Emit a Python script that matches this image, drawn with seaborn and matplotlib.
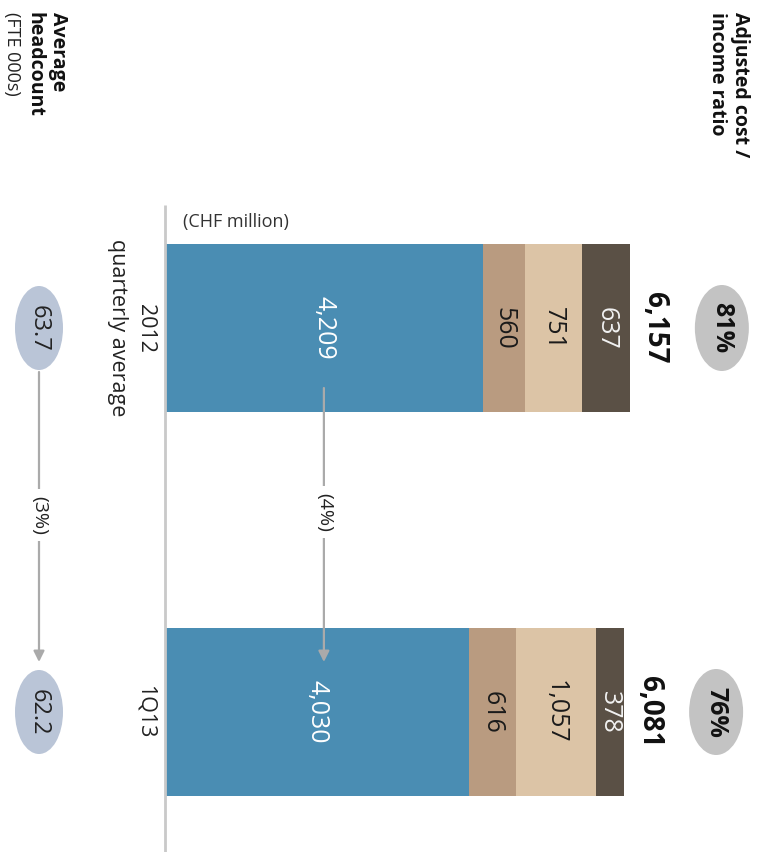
import numpy as np
import pandas as pd
import matplotlib
matplotlib.use("Agg")
import matplotlib.pyplot as plt
import seaborn as sns
from matplotlib.patches import Ellipse

# ---- data ----
categories = ["2012\nquarterly average", "1Q13"]
personnel = [4209, 4030]
general_admin = [560, 616]
services = [751, 1057]
other = [637, 378]
totals = [6157, 6081]
cost_income_ratio = ["81%", "76%"]
headcount = ["63.7", "62.2"]
cost_change = "(4%)"
headcount_change = "(3%)"

seg_values = [personnel, general_admin, services, other]
seg_colors = ["#4a8db3", "#b99b80", "#dcc4a6", "#5a5045"]
seg_text = ["white", "#1a1a1a", "#1a1a1a", "#f2f2f2"]

sns.set_theme(style="white")
plt.rcParams["font.family"] = ["Open Sans", "DejaVu Sans"]

W, H = 760, 852
fig = plt.figure(figsize=(W / 100, H / 100), dpi=100)
ax = fig.add_axes([0, 0, 1, 1])

X0 = 165          # pixel of zero baseline
S = 0.0755        # pixels per CHF million
Y0, DY = 328, 384 # pixel centre of first category, spacing


def xd(px):
    return (px - X0) / S


def yd(py):
    return (py - Y0) / DY


# stacked bars: draw cumulative totals from largest to smallest
cum = np.cumsum(np.array(seg_values), axis=0)
df = pd.DataFrame({"cat": categories})
for k in range(len(seg_values) - 1, -1, -1):
    df["v"] = cum[k]
    sns.barplot(data=df, x="v", y="cat", orient="h", color=seg_colors[k],
                saturation=1, width=0.435, linewidth=0, ax=ax)

ax.set_xlim(xd(0), xd(W))
ax.set_ylim(yd(H), yd(0))
ax.axis("off")

# segment labels
for i in range(len(categories)):
    left = 0
    for k, vals in enumerate(seg_values):
        v = vals[i]
        ax.text(left + v / 2, i, f"{v:,}", rotation=-90, ha="center", va="center",
                fontsize=18, color=seg_text[k])
        left += v
    # totals
    ax.text(totals[i] + 25 / S, i, f"{totals[i]:,}", rotation=-90, ha="center",
            va="center", fontsize=20, fontweight="bold", color="#111111")
    # cost/income ellipse
    cx = totals[i] + 92 / S
    ax.add_patch(Ellipse((cx, i), 54 / S, 86 / DY, color="#c3c3c3", lw=0))
    ax.text(cx, i, cost_income_ratio[i], rotation=-90, ha="center",
            va="center", fontsize=18, fontweight="bold", color="#111111")
    # category labels
    ax.text(xd(156), i, categories[i], rotation=-90, ha="right", va="center",
            multialignment="center", fontsize=15.5, color="#222222",
            linespacing=1.45)
    # headcount ellipse
    ax.add_patch(Ellipse((xd(39), i), 48 / S, 84 / DY, color="#bac5d7", lw=0))
    ax.text(xd(39), i, headcount[i], rotation=-90, ha="center", va="center",
            fontsize=17, color="#222222")

# baseline
ax.plot([0, 0], [yd(205), yd(H)], color="#c9c9c9", lw=2, solid_capstyle="butt")

# change arrows
arrow_kw = dict(arrowstyle="-|>", color="#aaaaaa", lw=1.6, mutation_scale=16,
                shrinkA=0, shrinkB=0)
mx = personnel[0] / 2
ax.annotate("", xy=(mx, yd(662)), xytext=(mx, yd(388)), arrowprops=arrow_kw)
ax.text(mx, yd(512), cost_change, rotation=-90, ha="center", va="center",
        fontsize=14, color="#222222",
        bbox=dict(boxstyle="square,pad=0.35", fc="white", ec="none"))
ax.annotate("", xy=(xd(39), yd(662)), xytext=(xd(39), yd(372)), arrowprops=arrow_kw)
ax.text(xd(39), yd(515), headcount_change, rotation=-90, ha="center", va="center",
        fontsize=14, color="#222222",
        bbox=dict(boxstyle="square,pad=0.35", fc="white", ec="none"))

# headers
ax.text(xd(750), yd(12), "Adjusted cost /\nincome ratio", rotation=-90, ha="right",
        va="top", multialignment="left", fontsize=14, fontweight="bold",
        color="#111111", linespacing=1.2)
ax.text(xd(68), yd(12), "Average\nheadcount", rotation=-90, ha="right", va="top",
        multialignment="left", fontsize=14, fontweight="bold", color="#111111",
        linespacing=1.2)
ax.text(xd(21), yd(12), "(FTE 000s)", rotation=-90, ha="right", va="top",
        fontsize=13, color="#222222")
ax.text(xd(183), yd(222), "(CHF million)", ha="left", va="center", fontsize=13,
        color="#333333")

fig.savefig("out.png", dpi=100)
